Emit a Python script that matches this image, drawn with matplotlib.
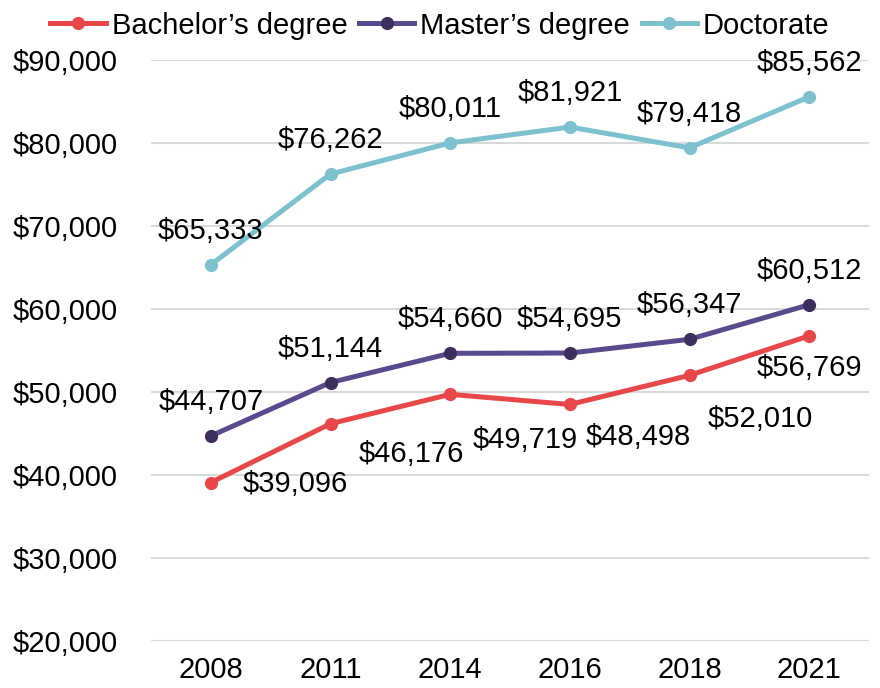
import matplotlib
matplotlib.use("Agg")
import matplotlib.pyplot as plt
from matplotlib.ticker import FuncFormatter

years = ["2008", "2011", "2014", "2016", "2018", "2021"]
bachelor = [39096, 46176, 49719, 48498, 52010, 56769]
master = [44707, 51144, 54660, 54695, 56347, 60512]
doctorate = [65333, 76262, 80011, 81921, 79418, 85562]
series_names = ["Bachelor\u2019s degree", "Master\u2019s degree", "Doctorate"]

plt.rcParams['font.family'] = ['Liberation Sans', 'DejaVu Sans']
FS = 21

fig = plt.figure(figsize=(8.8, 6.88), dpi=100)
ax = fig.add_axes([151/880, 1-641/688, (869-151)/880, (641-60)/688])

x = list(range(len(years)))
styles = [
    dict(color="#E8474A", mfc="#E8474A", mec="#E8474A"),
    dict(color="#594A8E", mfc="#3C2F5E", mec="#3C2F5E"),
    dict(color="#7DC0CE", mfc="#7DC0CE", mec="#7DC0CE"),
]
data = [bachelor, master, doctorate]
for vals, st, name in zip(data, styles, series_names):
    ax.plot(x, vals, marker="o", lw=3.6, ms=8.5, label=name, zorder=3, **st)

# label offsets in pixels (dx, dy up)
px = 0.72
bach_off = [(84, -1), (81, -30), (75, -46), (68, -33), (71, -44), (0, -32)]
for i, v in enumerate(bachelor):
    dx, dy = bach_off[i]
    ax.annotate(f"${v:,}", (x[i], v), xytext=(dx*px, dy*px), textcoords="offset points",
                ha="center", va="center", fontsize=FS, color="black")
for vals in (master, doctorate):
    for i, v in enumerate(vals):
        ax.annotate(f"${v:,}", (x[i], v), xytext=(0, 34*px), textcoords="offset points",
                    ha="center", va="center", fontsize=FS, color="black")

ax.set_xlim(-0.5, len(years)-0.5)
ax.set_ylim(20000, 90000)
ax.set_yticks(range(20000, 90001, 10000))
ax.yaxis.set_major_formatter(FuncFormatter(lambda v, p: f"${int(v):,}"))
ax.set_xticks(x)
ax.set_xticklabels(years)
ax.tick_params(axis="y", length=0, pad=24, labelsize=FS)
ax.tick_params(axis="x", length=0, pad=11, labelsize=FS)
ax.grid(axis="y", color="#D9D9D9", lw=1.5, zorder=0)
for s in ax.spines.values():
    s.set_visible(False)

fig.legend(loc="upper center", bbox_to_anchor=(0.5, 1.0), ncol=3, frameon=False,
           fontsize=FS, handlelength=1.9, handletextpad=0.2, columnspacing=0.4,
           borderaxespad=0)

fig.savefig("out.png", dpi=100)
